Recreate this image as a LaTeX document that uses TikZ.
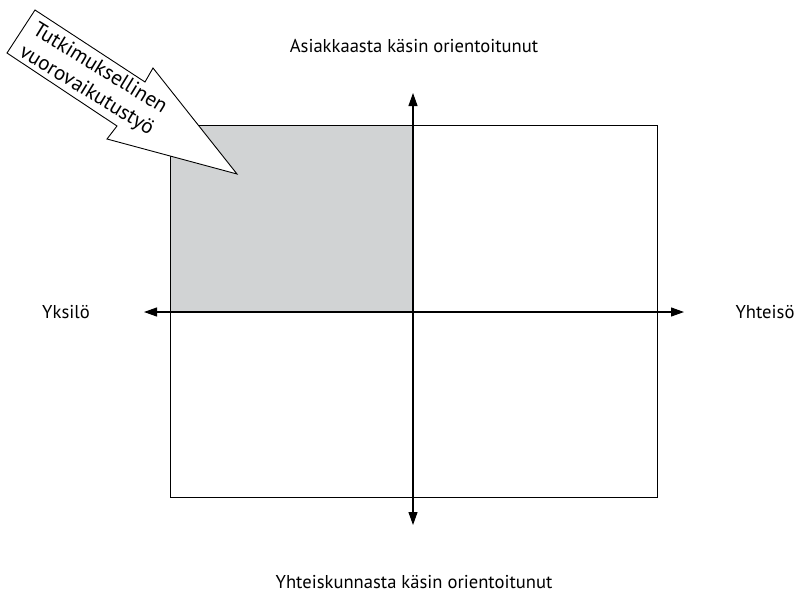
\documentclass[tikz,border=0pt]{standalone}
\usepackage{fontspec}
\setmainfont{PT Sans}
\usetikzlibrary{arrows.meta}
\definecolor{quadgray}{HTML}{D1D3D4}
\tikzset{
  axis/.style={line width=1.1pt, -{Triangle[length=13pt,width=9pt]}},
  frame/.style={draw=black, line width=0.9pt},
  lbl/.style={font=\fontsize{18.6}{22}\selectfont, inner sep=0pt},
  bigarrow/.style={draw=black, fill=white, line width=0.9pt, line join=miter}
}
\begin{document}
\begin{tikzpicture}[x=1pt,y=-1pt]
\useasboundingbox (0,0) rectangle (799,595);
\fill[quadgray] (170,125) rectangle (413,312);
\draw[frame] (170,125) rectangle (657,497);
\coordinate (c) at (413,312);
\coordinate (top) at (413,93);
\coordinate (bot) at (413,525);
\coordinate (lft) at (144,312);
\coordinate (rgt) at (684,312);
\draw[axis] (c) -- (top);
\draw[axis] (c) -- (bot);
\draw[axis] (c) -- (lft);
\draw[axis] (c) -- (rgt);
\node[lbl] (n) at (414,46) {Asiakkaasta käsin orientoitunut};
\node[lbl] (s) at (414,582) {Yhteiskunnasta käsin orientoitunut};
\node[lbl] (w) at (66,312) {Yksilö};
\node[lbl] (e) at (765,312) {Yhteisö};
\draw[bigarrow] (35,10) -- (145,82) -- (153,68) -- (237,174) -- (107,139) -- (117,126) -- (7,53) -- cycle;
\node[inner sep=0pt, rotate=-31.5, align=center, font=\fontsize{21}{25.5}\selectfont] (t) at (93,80) {Tutkimuksellinen\\vuorovaikutustyö};
\end{tikzpicture}
\end{document}
